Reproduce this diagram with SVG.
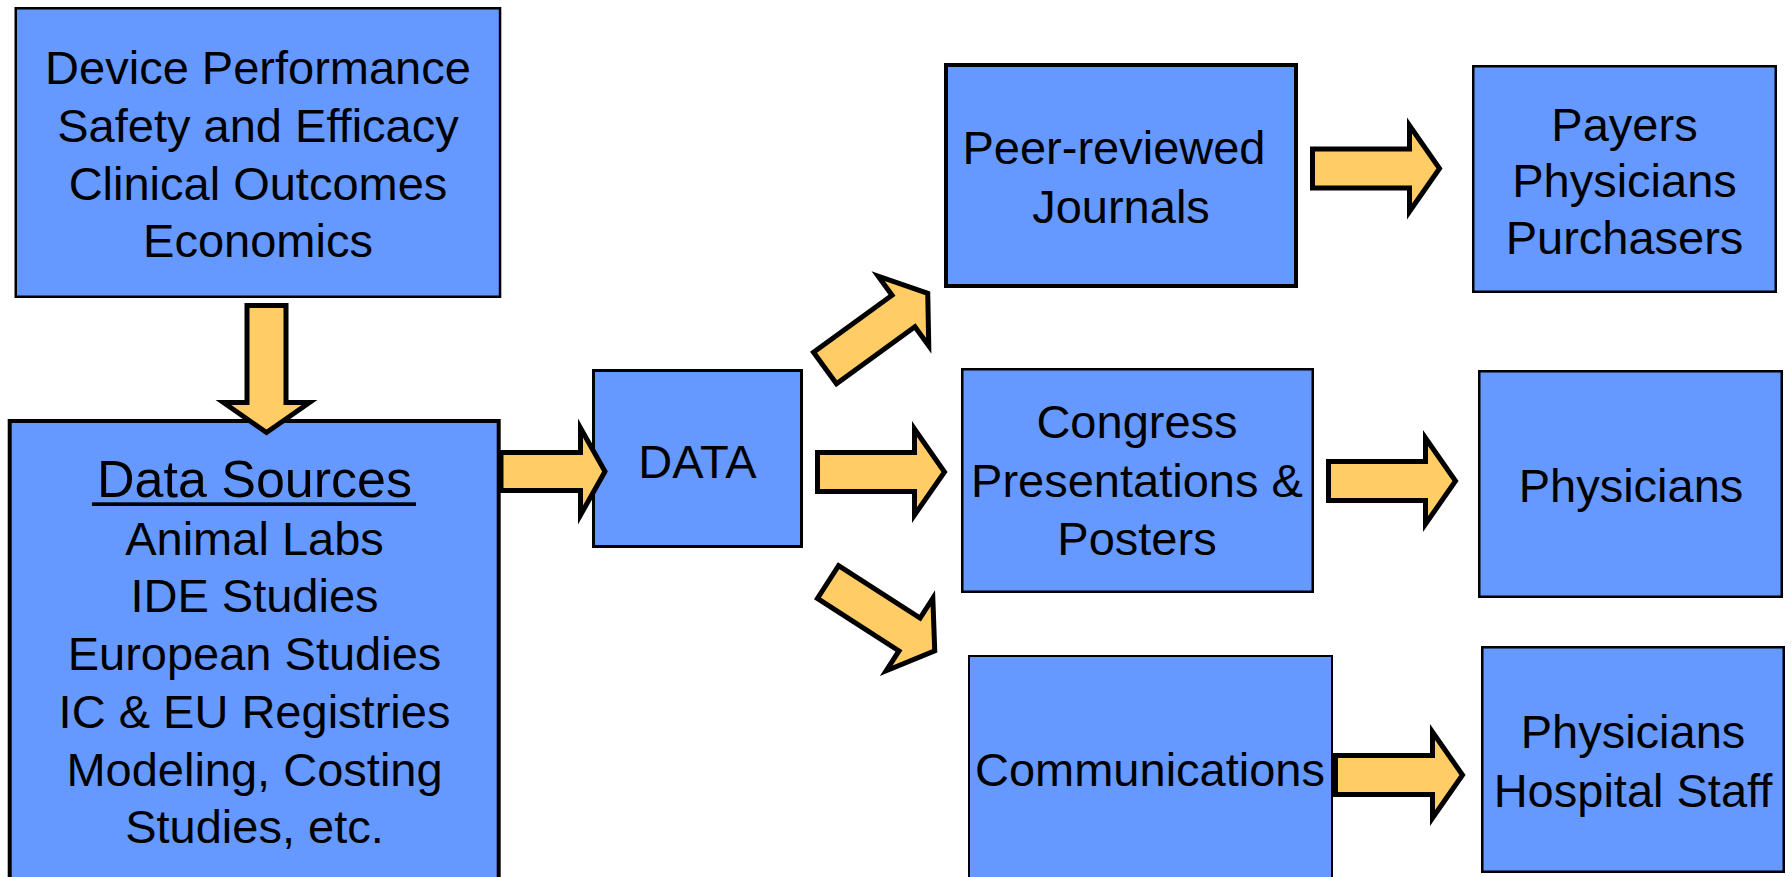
<svg xmlns="http://www.w3.org/2000/svg" width="1792" height="877" viewBox="0 0 1792 877">
<style>
.box{fill:#6699FF;stroke:#000}
.t{font-family:"Liberation Sans",Arial,sans-serif;font-size:47px;fill:#000;text-anchor:middle}
.arr{fill:#FFCC66;stroke:#000;stroke-width:5;stroke-linejoin:miter;stroke-miterlimit:10}
</style>
<defs>
<polygon id="arrowShape" class="arr" points="0,-19.5 97,-19.5 97,-43 127,0 97,43 97,19.5 0,19.5"/>
</defs>
<rect width="1792" height="877" fill="#fff"/>
<g id="node-criteria">
<rect class="box" x="15.75" y="8.25" width="484.3" height="288.5" stroke-width="2.5"/>
<text class="t" x="258" y="84">Device Performance</text>
<text class="t" x="258" y="142">Safety and Efficacy</text>
<text class="t" x="258" y="200">Clinical Outcomes</text>
<text class="t" x="258" y="257">Economics</text>
</g>
<g id="node-data-sources">
<rect class="box" x="9.7" y="421" width="489" height="470" stroke-width="4"/>
<text class="t" x="254.5" y="497" style="font-size:52px">Data Sources</text>
<rect x="92" y="502.3" width="324" height="3.7" fill="#000"/>
<text class="t" x="254.5" y="555">Animal Labs</text>
<text class="t" x="254.5" y="612">IDE Studies</text>
<text class="t" x="254.5" y="670">European Studies</text>
<text class="t" x="254.5" y="728">IC &amp; EU Registries</text>
<text class="t" x="254.5" y="786">Modeling, Costing</text>
<text class="t" x="254.5" y="843">Studies, etc.</text>
</g>
<g id="node-data">
<rect class="box" x="593.5" y="370.5" width="208" height="176" stroke-width="3"/>
<text class="t" x="697.5" y="478">DATA</text>
</g>
<g id="node-journals">
<rect class="box" x="946" y="65" width="350" height="221" stroke-width="4"/>
<text class="t" x="1114" y="164">Peer-reviewed</text>
<text class="t" x="1121" y="223">Journals</text>
</g>
<g id="node-congress">
<rect class="box" x="962.25" y="369.25" width="350.5" height="222.5" stroke-width="2.5"/>
<text class="t" x="1137" y="438">Congress</text>
<text class="t" x="1137" y="497">Presentations &amp;</text>
<text class="t" x="1137" y="555">Posters</text>
</g>
<g id="node-communications">
<rect class="box" x="969" y="656" width="363" height="240" stroke-width="2"/>
<text class="t" x="1150" y="786">Communications</text>
</g>
<g id="node-payers">
<rect class="box" x="1473.25" y="66.25" width="302.5" height="225.5" stroke-width="2.5"/>
<text class="t" x="1624.5" y="141">Payers</text>
<text class="t" x="1624.5" y="197">Physicians</text>
<text class="t" x="1624.5" y="254">Purchasers</text>
</g>
<g id="node-physicians">
<rect class="box" x="1479.25" y="371.25" width="302.5" height="225.5" stroke-width="2.5"/>
<text class="t" x="1631" y="502">Physicians</text>
</g>
<g id="node-hospital">
<rect class="box" x="1482.25" y="647.25" width="301.5" height="224.5" stroke-width="2.5"/>
<text class="t" x="1633" y="748">Physicians</text>
<text class="t" x="1633" y="807">Hospital Staff</text>
</g>
<g id="connectors">
<use href="#arrowShape" transform="translate(266.5,305.5) rotate(90)"/>
<polygon class="arr" points="501,452.5 580.5,452.5 580.5,428 605,471.5 580.5,515 580.5,490.5 501,490.5"/>
<use href="#arrowShape" transform="translate(825,368) rotate(-36)"/>
<use href="#arrowShape" transform="translate(817.5,472)"/>
<use href="#arrowShape" transform="translate(828,582) rotate(32.8)"/>
<use href="#arrowShape" transform="translate(1312.5,168.5)"/>
<use href="#arrowShape" transform="translate(1328.5,481)"/>
<use href="#arrowShape" transform="translate(1335.5,775)"/>
</g>
</svg>
